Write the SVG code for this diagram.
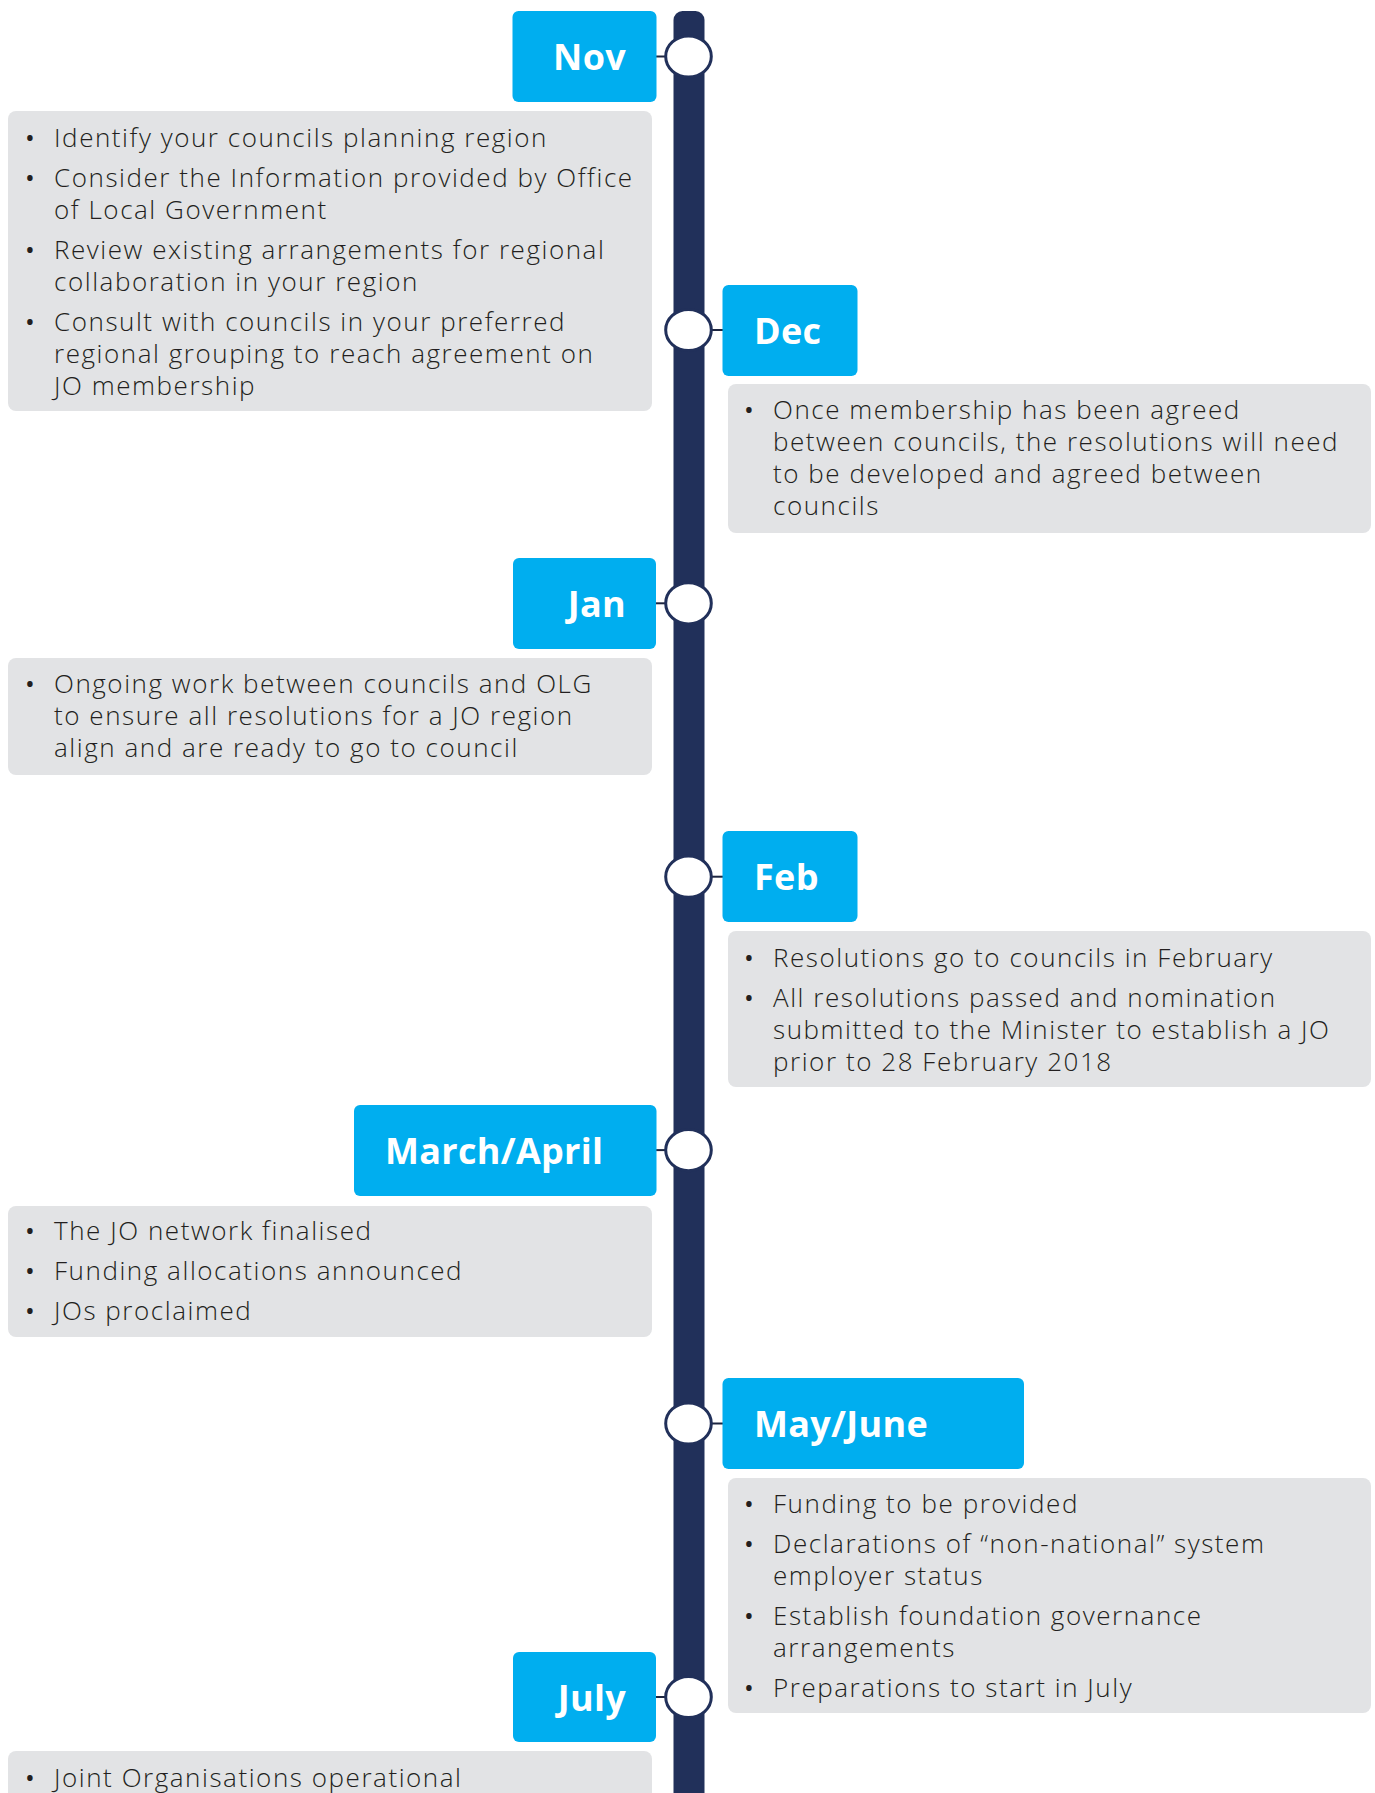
<svg xmlns="http://www.w3.org/2000/svg" width="1375" height="1793" viewBox="0 0 1375 1793">
<style>
.bg{fill:#ffffff}
.bar{fill:#21305a}
.month{fill:#00aeef}
.card{fill:#e2e3e5}
.dot{fill:#ffffff;stroke:#21305a;stroke-width:3}
.conn{stroke:#1c2540;stroke-width:2;fill:none}
.lbl{font-family:"Open Sans","Liberation Sans",sans-serif;font-weight:700;font-size:36px;fill:#ffffff;letter-spacing:0.3px}
.txt{font-family:"Open Sans","Liberation Sans",sans-serif;font-weight:300;font-size:26px;fill:#231f20;letter-spacing:1.55px}
.bul{font-family:"Open Sans","Liberation Sans",sans-serif;font-size:26px;fill:#231f20;text-anchor:middle}
.end{text-anchor:end}
</style>
<rect class="bg" x="0" y="0" width="1375" height="1793"/>
<rect class="bar" x="673.5" y="11" width="31" height="1800" rx="9"/>

<g id="connectors">
<line class="conn" x1="656" y1="56.5" x2="665" y2="56.5"/>
<line class="conn" x1="712" y1="330" x2="723" y2="330"/>
<line class="conn" x1="656" y1="603.3" x2="665" y2="603.3"/>
<line class="conn" x1="712" y1="876.7" x2="723" y2="876.7"/>
<line class="conn" x1="656" y1="1150.1" x2="665" y2="1150.1"/>
<line class="conn" x1="712" y1="1423.5" x2="723" y2="1423.5"/>
<line class="conn" x1="656" y1="1697" x2="665" y2="1697"/>
</g>

<g id="nov">
<rect class="month" x="512.5" y="11" width="144" height="91" rx="6"/>
<text class="lbl end" x="626" y="70">Nov</text>
<ellipse class="dot" cx="688.5" cy="56.5" rx="22.8" ry="20.6"/>
<rect class="card" x="8" y="111" width="644" height="300" rx="8"/>
<text class="bul" x="30" y="147">•</text>
<text class="txt" x="54" y="147">Identify your councils planning region</text>
<text class="bul" x="30" y="187">•</text>
<text class="txt" x="54" y="187">Consider the Information provided by Office</text>
<text class="txt" x="54" y="219">of Local Government</text>
<text class="bul" x="30" y="259">•</text>
<text class="txt" x="54" y="259">Review existing arrangements for regional</text>
<text class="txt" x="54" y="291">collaboration in your region</text>
<text class="bul" x="30" y="331">•</text>
<text class="txt" x="54" y="331">Consult with councils in your preferred</text>
<text class="txt" x="54" y="363">regional grouping to reach agreement on</text>
<text class="txt" x="54" y="395">JO membership</text>
</g>

<g id="dec">
<rect class="month" x="722.5" y="285" width="135" height="91" rx="6"/>
<text class="lbl" x="754" y="343.5">Dec</text>
<ellipse class="dot" cx="688.5" cy="330" rx="22.8" ry="20.6"/>
<rect class="card" x="728" y="384" width="643" height="149" rx="8"/>
<text class="bul" x="749" y="419">•</text>
<text class="txt" x="773" y="419">Once membership has been agreed</text>
<text class="txt" x="773" y="451">between councils, the resolutions will need</text>
<text class="txt" x="773" y="483">to be developed and agreed between</text>
<text class="txt" x="773" y="515">councils</text>
</g>

<g id="jan">
<rect class="month" x="513" y="558" width="143" height="91" rx="6"/>
<text class="lbl end" x="626" y="616.8">Jan</text>
<ellipse class="dot" cx="688.5" cy="603.3" rx="22.8" ry="20.6"/>
<rect class="card" x="8" y="658" width="644" height="117" rx="8"/>
<text class="bul" x="30" y="693">•</text>
<text class="txt" x="54" y="693">Ongoing work between councils and OLG</text>
<text class="txt" x="54" y="725">to ensure all resolutions for a JO region</text>
<text class="txt" x="54" y="757">align and are ready to go to council</text>
</g>

<g id="feb">
<rect class="month" x="722.5" y="831" width="135" height="91" rx="6"/>
<text class="lbl" x="754" y="890.2">Feb</text>
<ellipse class="dot" cx="688.5" cy="876.7" rx="22.8" ry="20.6"/>
<rect class="card" x="728" y="931" width="643" height="156" rx="8"/>
<text class="bul" x="749" y="967">•</text>
<text class="txt" x="773" y="967">Resolutions go to councils in February</text>
<text class="bul" x="749" y="1007">•</text>
<text class="txt" x="773" y="1007">All resolutions passed and nomination</text>
<text class="txt" x="773" y="1039">submitted to the Minister to establish a JO</text>
<text class="txt" x="773" y="1071">prior to 28 February 2018</text>
</g>

<g id="march-april">
<rect class="month" x="354" y="1105" width="302.5" height="91" rx="6"/>
<text class="lbl" x="385" y="1163.5">March/April</text>
<ellipse class="dot" cx="688.5" cy="1150.1" rx="22.8" ry="20.6"/>
<rect class="card" x="8" y="1206" width="644" height="131" rx="8"/>
<text class="bul" x="30" y="1240">•</text>
<text class="txt" x="54" y="1240">The JO network finalised</text>
<text class="bul" x="30" y="1280">•</text>
<text class="txt" x="54" y="1280">Funding allocations announced</text>
<text class="bul" x="30" y="1320">•</text>
<text class="txt" x="54" y="1320">JOs proclaimed</text>
</g>

<g id="may-june">
<rect class="month" x="722.5" y="1378" width="301.5" height="91" rx="6"/>
<text class="lbl" x="754" y="1437">May/June</text>
<ellipse class="dot" cx="688.5" cy="1423.5" rx="22.8" ry="20.6"/>
<rect class="card" x="728" y="1478" width="643" height="235" rx="8"/>
<text class="bul" x="749" y="1513">•</text>
<text class="txt" x="773" y="1513">Funding to be provided</text>
<text class="bul" x="749" y="1553">•</text>
<text class="txt" x="773" y="1553">Declarations of “non-national” system</text>
<text class="txt" x="773" y="1585">employer status</text>
<text class="bul" x="749" y="1625">•</text>
<text class="txt" x="773" y="1625">Establish foundation governance</text>
<text class="txt" x="773" y="1657">arrangements</text>
<text class="bul" x="749" y="1697">•</text>
<text class="txt" x="773" y="1697">Preparations to start in July</text>
</g>

<g id="july">
<rect class="month" x="513" y="1652" width="143" height="90" rx="6"/>
<text class="lbl end" x="626" y="1710.5">July</text>
<ellipse class="dot" cx="688.5" cy="1697" rx="22.8" ry="20.6"/>
<rect class="card" x="8" y="1751" width="644" height="60" rx="8"/>
<text class="bul" x="30" y="1787">•</text>
<text class="txt" x="54" y="1787">Joint Organisations operational</text>
</g>
</svg>
